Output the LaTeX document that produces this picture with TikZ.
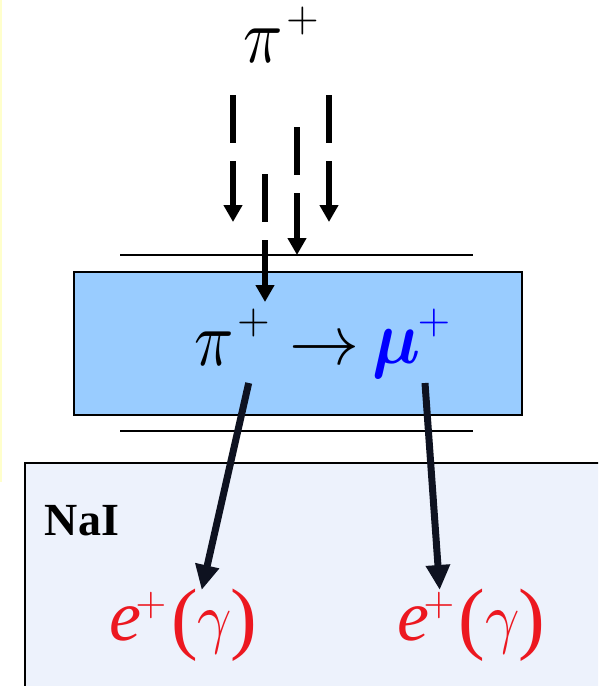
\documentclass[tikz,border=0pt]{standalone}
\usepackage{amsmath}
\usepackage{graphicx}
\usepackage{fontspec}
\setmainfont{Liberation Serif}
\usetikzlibrary{arrows.meta}
\definecolor{boxblue}{RGB}{153,204,255}
\definecolor{naifill}{RGB}{237,242,252}
\definecolor{darknavy}{RGB}{14,18,32}
\definecolor{lblred}{RGB}{236,24,32}
\definecolor{paleyellow}{RGB}{255,255,204}
\newcommand{\slotbox}[3]{\makebox[#1pt][c]{\raisebox{#2pt}{#3}}}
\newcommand{\fsz}[1]{\fontsize{#1}{#1}\selectfont}
\newcommand{\bigpi}{\scalebox{6.5}[7.8]{$\pi$}}
\newcommand{\biggam}{\scalebox{6}[6.8]{$\gamma$}}
\newcommand{\bigmu}{\scalebox{6.8}[7.6]{$\boldsymbol{\mu}$}}
\newcommand{\bigarrow}{\scalebox{7}{$\rightarrow$}}
\newcommand{\pls}{\scalebox{4.2}{$+$}}
\newcommand{\plsb}{\scalebox{4.0}{$+$}}
\tikzset{
  dasharrow/.style={line width=5.5pt, dash pattern=on 48pt off 18pt, -{Triangle[width=18pt,length=17pt]}},
  thickarrow/.style={line width=7pt, draw=darknavy, -{Triangle[width=23pt,length=25pt]}},
  thinline/.style={line width=2pt},
  lbl/.style={anchor=base west, inner sep=0pt, outer sep=0pt}
}
\begin{document}
\begin{tikzpicture}[x={(1pt,0)}, y={(0,-1pt)}]
\useasboundingbox (0,0) rectangle (598,686);
\clip (0,0) rectangle (598,686);
\fill[paleyellow] (0,0) rectangle (1.6,482);
% NaI block
\draw[thinline, fill=naifill] (25,462.7) rectangle (620,720);
\node[lbl, font=\fsz{46}\bfseries] (nai) at (45,535) {NaI};
% thin lines
\draw[thinline] (120,254.7) -- (473,254.7);
\draw[thinline] (120,431) -- (473,431);
% target
\node[draw, thinline, fill=boxblue, minimum width=448pt, minimum height=143.3pt, inner sep=0pt, anchor=north west] (target) at (73,270.7) {};
% labels
\node[lbl] (pitop) at (245,62) {\slotbox{36}{0}{\bigpi}\slotbox{43}{30.3}{\pls}};
\node[lbl] (decay) at (197,365) {\slotbox{35}{0}{\bigpi}\slotbox{43}{31.3}{\pls}\slotbox{99}{0.5}{\bigarrow}\color{blue}\slotbox{46}{2}{\bigmu}\slotbox{28}{31.3}{\pls}};
\node[lbl, text=lblred] (eleft) at (113,640) {\slotbox{25}{0}{\fsz{72}\itshape e}\slotbox{26}{24.3}{\plsb}\slotbox{42}{-4.5}{\fsz{80}(}\slotbox{18}{0}{\biggam}\slotbox{40}{-4.5}{\fsz{80})}};
\node[lbl, text=lblred] (eright) at (401,640) {\slotbox{25}{0}{\fsz{72}\itshape e}\slotbox{26}{24.3}{\plsb}\slotbox{40}{-4.5}{\fsz{80}(}\slotbox{22}{0}{\biggam}\slotbox{35}{-4.5}{\fsz{80})}};
% incoming pions
\coordinate (p1s) at (233,95);  \coordinate (p1e) at (233,222);
\coordinate (p2s) at (329,95);  \coordinate (p2e) at (329,222);
\coordinate (p3s) at (297,127); \coordinate (p3e) at (297,255);
\coordinate (p4s) at (265,174); \coordinate (p4e) at (265,302);
\draw[dasharrow] (p1s) -- (p1e);
\draw[dasharrow] (p2s) -- (p2e);
\draw[dasharrow] (p3s) -- (p3e);
\draw[dasharrow] (p4s) -- (p4e);
% outgoing positrons
\coordinate (a1s) at (248.7,383); \coordinate (a1e) at (201.7,590);
\coordinate (a2s) at (425,383);   \coordinate (a2e) at (439.7,590);
\draw[thickarrow] (a1s) -- (a1e);
\draw[thickarrow] (a2s) -- (a2e);
\end{tikzpicture}
\end{document}
